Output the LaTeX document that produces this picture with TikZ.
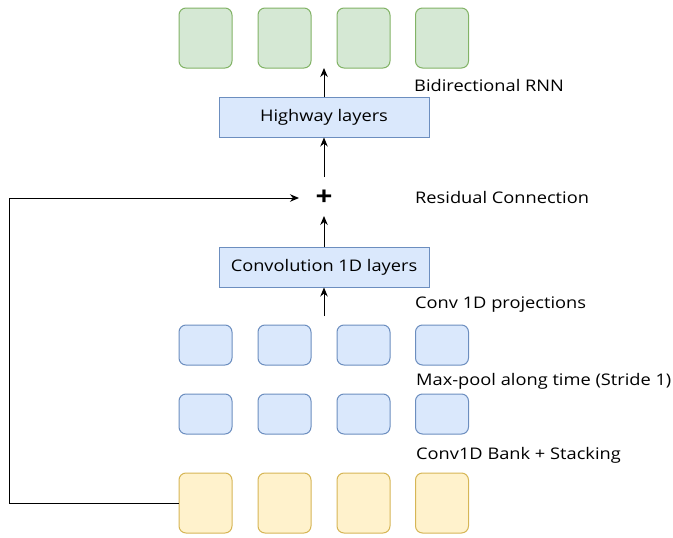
\documentclass[tikz,border=0pt]{standalone}
\usepackage{fontspec}
\setmainfont[FakeStretch=1.14]{Open Sans}
\usetikzlibrary{arrows.meta}
\definecolor{gfill}{HTML}{D5E8D4}
\definecolor{gline}{HTML}{82B366}
\definecolor{bfill}{HTML}{DAE8FC}
\definecolor{bline}{HTML}{6C8EBF}
\definecolor{yfill}{HTML}{FFF2CC}
\definecolor{yline}{HTML}{D6B656}
\begin{document}
\begin{tikzpicture}[x=1pt,y=-1pt,
  cell/.style={draw, rounded corners=7pt, line width=1pt, minimum width=53pt, inner sep=0pt},
  gcell/.style={cell, fill=gfill, draw=gline, minimum height=60pt},
  bcell/.style={cell, fill=bfill, draw=bline, minimum height=40pt},
  ycell/.style={cell, fill=yfill, draw=yline, minimum height=60pt},
  layer/.style={draw=bline, fill=bfill, line width=1pt, minimum width=210pt, minimum height=40pt, inner sep=0pt, font=\fontsize{16}{18}\selectfont},
  lbl/.style={anchor=west, inner sep=0pt, font=\fontsize{16}{18}\selectfont},
  arr/.style={-{Stealth[length=9pt,width=7.5pt]}, line width=1pt}
]
\useasboundingbox (0,0) rectangle (673,538);
% green row
\node[gcell] (g1) at (205.5,38) {};
\node[gcell] (g2) at (284.5,38) {};
\node[gcell] (g3) at (363.5,38) {};
\node[gcell] (g4) at (442,38) {};
% blue rows
\node[bcell] (a1) at (205.5,345) {};
\node[bcell] (a2) at (284.5,345) {};
\node[bcell] (a3) at (363.5,345) {};
\node[bcell] (a4) at (442,345) {};
\node[bcell] (b1) at (205.5,414) {};
\node[bcell] (b2) at (284.5,414) {};
\node[bcell] (b3) at (363.5,414) {};
\node[bcell] (b4) at (442,414) {};
% yellow row
\node[ycell] (y1) at (205.5,503) {};
\node[ycell] (y2) at (284.5,503) {};
\node[ycell] (y3) at (363.5,503) {};
\node[ycell] (y4) at (442,503) {};
% layers
\node[layer] (hw) at (324,117) {\raisebox{-2pt}{Highway layers}};
\node[layer] (cv) at (324,267) {\raisebox{-2pt}{Convolution 1D layers}};
\node[inner sep=0pt, font=\fontsize{26}{26}\selectfont\bfseries] (plus) at (324,198) {+};
% labels
\node[lbl] (l1) at (414,85) {Bidirectional RNN};
\node[lbl] (l2) at (415,197) {Residual Connection};
\node[lbl] (l3) at (415,305) {Conv 1D projections};
\node[lbl] (l4) at (416,381) {Max-pool along time (Stride 1)};
\node[lbl] (l5) at (416,455) {Conv1D Bank + Stacking};
% coordinates
\coordinate (gtop) at (324,68);
\coordinate (hwin) at (324,177);
\coordinate (pin) at (324,216);
\coordinate (cvin) at (324,316);
\coordinate (corner1) at (9,503);
\coordinate (corner2) at (9,198);
\coordinate (rtip) at (299,198);
% arrows
\draw[arr] (hw.north) -- (gtop);
\draw[arr] (hwin) -- (hw.south);
\draw[arr] (cv.north) -- (pin);
\draw[arr] (cvin) -- (cv.south);
\draw[arr] (y1.west) -- (corner1) -- (corner2) -- (rtip);
\end{tikzpicture}
\end{document}
